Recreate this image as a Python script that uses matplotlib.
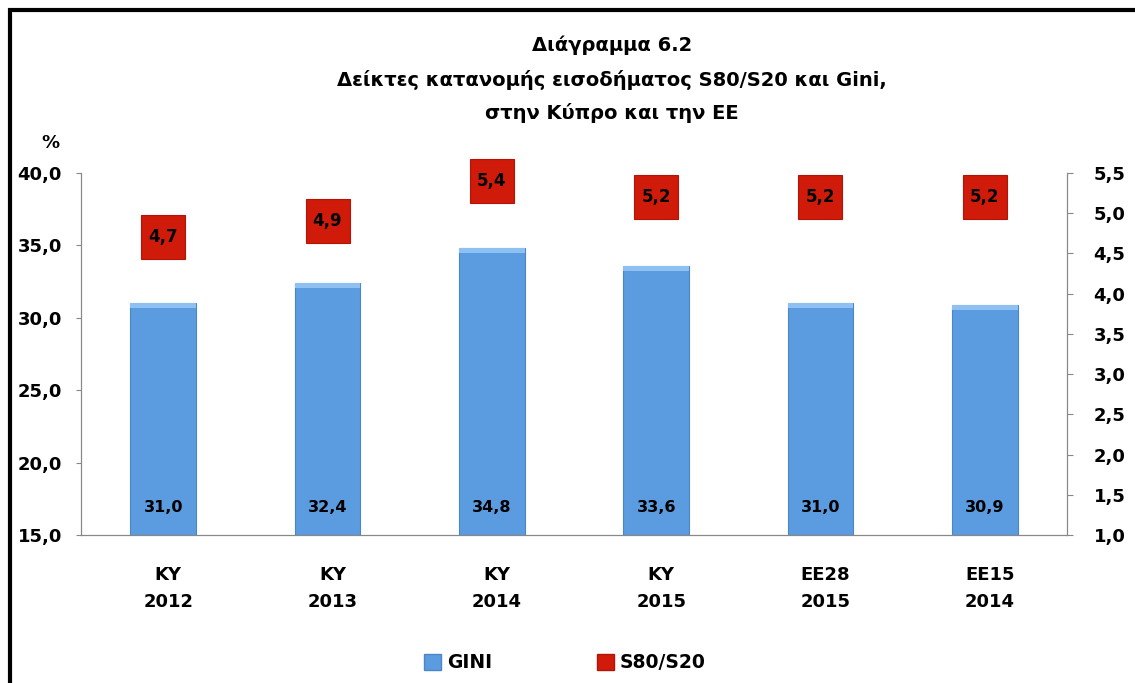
import matplotlib.pyplot as plt
import matplotlib.patches as mpatches
import matplotlib.transforms as mtransforms
from matplotlib.ticker import FuncFormatter
import numpy as np

plt.rcParams['font.family'] = ['DejaVu Sans']
plt.rcParams['font.weight'] = 'bold'

# Data
regions = ['KY', 'KY', 'KY', 'KY', 'EE28', 'EE15']
years = ['2012', '2013', '2014', '2015', '2015', '2014']
gini = [31.0, 32.4, 34.8, 33.6, 31.0, 30.9]
s80s20 = [4.7, 4.9, 5.4, 5.2, 5.2, 5.2]

blue = '#5B9BE0'
red = '#D01A0A'

fig = plt.figure(figsize=(11.35, 6.83), dpi=100)
ax = fig.add_axes([81/1135, 1-535/683, (1067-81)/1135, (535-173)/683])
ax2 = ax.twinx()

x = np.arange(len(gini))
ax.bar(x, [g - 15 for g in gini], bottom=15, width=0.4, color=blue,
       edgecolor='#4A86C8', linewidth=0.8, zorder=2)
# lighter top bevel
ax.bar(x, 0.35, bottom=[g - 0.35 for g in gini], width=0.4, color='#8EC0F2',
       linewidth=0, zorder=3)

for xi, g in zip(x, gini):
    ax.text(xi, 16.9, f'{g:.1f}'.replace('.', ','), ha='center', va='center',
            fontsize=11.5, fontweight='bold', zorder=4)

ax2.plot(x, s80s20, linestyle='none', marker='s', markersize=32, clip_on=False,
         markerfacecolor=red, markeredgecolor='#B01508', markeredgewidth=0.8, zorder=5)
for xi, v in zip(x, s80s20):
    ax2.text(xi, v, f'{v:.1f}'.replace('.', ','), ha='center', va='center',
             fontsize=12, fontweight='bold', zorder=6)

ax.set_xlim(-0.5, len(gini) - 0.5)
ax.set_ylim(15, 40)
ax.set_yticks(np.arange(15, 40.1, 5))
ax2.set_ylim(1.0, 5.5)
ax2.set_yticks(np.arange(1.0, 5.51, 0.5))
fmt = FuncFormatter(lambda v, p: f'{v:.1f}'.replace('.', ','))
ax.yaxis.set_major_formatter(fmt)
ax2.yaxis.set_major_formatter(fmt)

ax.set_xticks(x)
ax.set_xticklabels([f'{r}\n{y}' for r, y in zip(regions, years)],
                   fontsize=13, fontweight='bold', linespacing=1.7)
ax.tick_params(axis='x', length=0, pad=22)
ax.tick_params(axis='y', labelsize=13, color='#888888', length=3.8, pad=10)
ax2.tick_params(axis='y', labelsize=13, color='#888888', length=4.2, pad=15)
shift = mtransforms.ScaledTranslation(5/100, 0, fig.dpi_scale_trans)
for lab in ax.get_xticklabels():
    lab.set_transform(lab.get_transform() + shift)
for a in (ax, ax2):
    for lab in a.get_yticklabels() + a.get_xticklabels():
        lab.set_fontweight('bold')
    a.spines['top'].set_visible(False)
    for s in ['left', 'right', 'bottom']:
        a.spines[s].set_color('#888888')

fig.text(50/1135, 1-143/683, '%', ha='center', va='center', fontsize=13, fontweight='bold')

fig.text(0.539, 1-45/683, 'Διάγραμμα 6.2', ha='center', va='center', fontsize=14, fontweight='bold')
fig.text(0.539, 1-80/683, 'Δείκτες κατανομής εισοδήματος S80/S20 και Gini,', ha='center', va='center',
         fontsize=14, fontweight='bold')
fig.text(0.539, 1-113/683, 'στην Κύπρο και την ΕΕ', ha='center', va='center', fontsize=14, fontweight='bold')

handles = [mpatches.Patch(facecolor=blue, edgecolor='#4A86C8', label='GINI'),
           mpatches.Patch(facecolor=red, edgecolor='#B01508', label='S80/S20')]
fig.legend(handles=handles, loc='center', bbox_to_anchor=(0.4975, 1-663/683), ncol=2,
           frameon=False, prop={'size': 13.5, 'weight': 'bold'}, columnspacing=5.6,
           handlelength=0.9, handleheight=0.9, handletextpad=0.3)

# frame around the chart area
fig.patches.append(mpatches.Rectangle((10/1135, -0.05), 1.2, 1-10/683 + 0.05,
                                      transform=fig.transFigure, fill=False,
                                      edgecolor='black', linewidth=3))

fig.savefig('out.png', dpi=100)
